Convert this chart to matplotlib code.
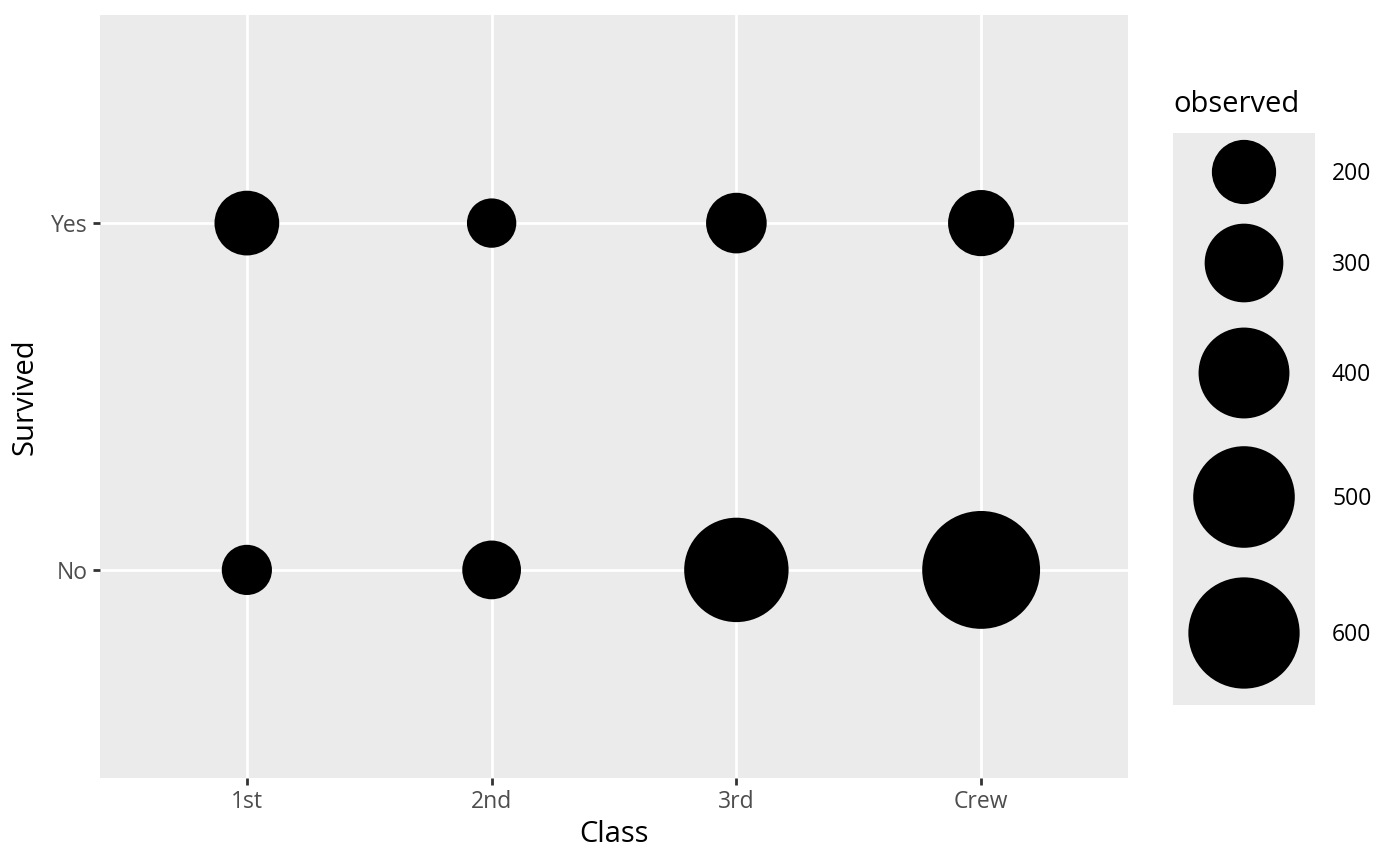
import numpy as np
import matplotlib
matplotlib.use("Agg")
import matplotlib.pyplot as plt

plt.rcParams["font.family"] = ["Open Sans", "DejaVu Sans"]

# Titanic counts by class and survival
classes = ["1st", "2nd", "3rd", "Crew"]
survived_levels = ["No", "Yes"]
observed_no = [122, 167, 528, 673]
observed_yes = [203, 118, 178, 212]
legend_values = [200, 300, 400, 500, 600]

W, H = 1400, 865
fig = plt.figure(figsize=(W / 100, H / 100), dpi=100)

# marker area (pt^2) proportional to count
k = 10.7

def px(l, t, r, b):
    return [l / W, 1 - b / H, (r - l) / W, (b - t) / H]

ax = fig.add_axes(px(100, 15, 1128, 778))
ax.set_facecolor("#EBEBEB")
xs = np.arange(len(classes))
for yi, vals in enumerate([observed_no, observed_yes]):
    ax.scatter(xs, np.full(len(xs), yi), s=k * np.array(vals), color="black",
               edgecolors="none", zorder=3)

ax.set_xlim(-0.6, len(classes) - 1 + 0.6)
ax.set_ylim(-0.6, 1.6)
ax.set_xticks(xs)
ax.set_xticklabels(classes)
ax.set_yticks([0, 1])
ax.set_yticklabels(survived_levels)
ax.grid(True, color="white", linewidth=2.0)
ax.set_axisbelow(True)
for sp in ax.spines.values():
    sp.set_visible(False)
ax.tick_params(axis="both", colors="#333333", length=5, width=2,
               labelsize=16.5, labelcolor="#4D4D4D", pad=4)
ax.set_xlabel("Class", fontsize=21, color="black", labelpad=4)
ax.set_ylabel("Survived", fontsize=21, color="black", labelpad=8)

# legend
lax = fig.add_axes(px(1173, 133, 1315, 705))
lax.set_facecolor("#EBEBEB")
lax.set_xlim(0, 142)
lax.set_ylim(705, 133)
for sp in lax.spines.values():
    sp.set_visible(False)
lax.set_xticks([])
lax.set_yticks([])
centers = [172, 263, 373, 497, 633]
lax.scatter([71] * len(legend_values), centers, s=k * np.array(legend_values),
            color="black", edgecolors="none", clip_on=False)
for v, c in zip(legend_values, centers):
    fig.text(1332 / W, 1 - (c + 2) / H, str(v), fontsize=16.5, va="center", ha="left")
fig.text(1173 / W, 1 - 105 / H, "observed", fontsize=21, va="center", ha="left")

fig.savefig("out.png", dpi=100)
